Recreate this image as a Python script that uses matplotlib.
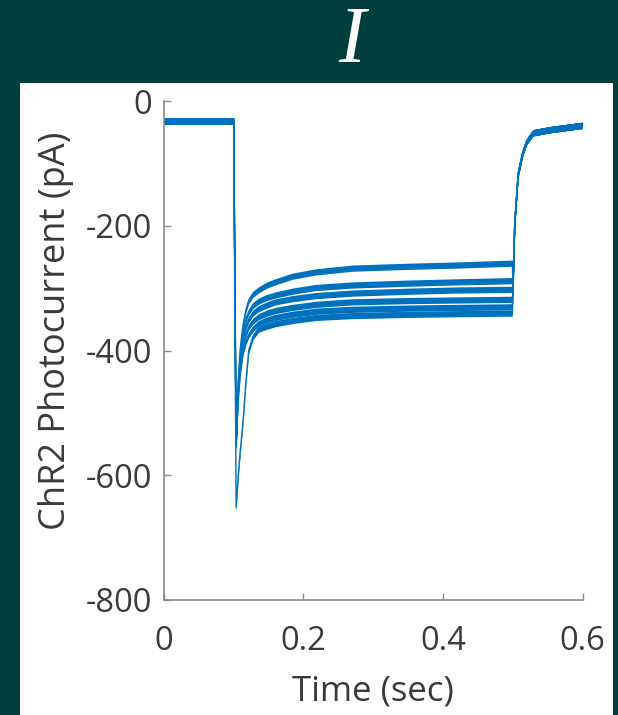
import numpy as np
import matplotlib
matplotlib.use('Agg')
import matplotlib.pyplot as plt
from matplotlib.patches import Rectangle

plt.rcParams['font.family'] = ['Open Sans', 'DejaVu Sans']
plt.rcParams['axes.unicode_minus'] = False

# light-on part of the sweeps (sec), shared by all traces
t_on = [0.000, 0.1005, 0.104, 0.107, 0.110, 0.114, 0.118, 0.122, 0.128,
        0.136, 0.148, 0.160, 0.184, 0.218, 0.270, 0.350, 0.420, 0.4995]
traces_on = [
    [-32, -32, -545, -448, -395, -358, -335, -320, -310, -303, -295, -290, -281, -274, -268, -265, -263, -260],
    [-32, -32, -548, -455, -405, -370, -350, -338, -328, -321, -315, -311, -305, -299, -295, -292, -290, -288],
    [-32, -32, -550, -462, -415, -380, -362, -350, -340, -333, -327, -322, -317, -312, -308, -305, -303, -302],
    [-32, -32, -552, -470, -425, -392, -374, -362, -353, -346, -340, -336, -331, -326, -322, -320, -319, -318],
    [-32, -32, -555, -478, -435, -402, -386, -375, -365, -357, -351, -347, -342, -337, -334, -332, -331, -330],
    [-32, -32, -652, -600, -560, -512, -450, -400, -378, -366, -361, -357, -352, -347, -344, -342, -341, -340],
]
# light-off relaxation, same for every trace
t_off = [0.5005, 0.503, 0.508, 0.5146, 0.520, 0.529, 0.553, 0.600]
y_off = [-300, -196, -116, -82, -65, -51, -46, -39]

x_ticks = [0, 0.2, 0.4, 0.6]
y_ticks = [0, -200, -400, -600, -800]

bg = '#013d3d'
blue = '#0072bd'
grey = '#8a8a8a'
txt = '#3a3a3a'

fig = plt.figure(figsize=(6.18, 7.15), dpi=100, facecolor=bg)
fig.patches.append(Rectangle((20 / 618, 0), 593 / 618, 1 - 83 / 715,
                             transform=fig.transFigure, facecolor='white',
                             edgecolor='none', zorder=-1))

ax = fig.add_axes([163.5 / 618, 1 - 600 / 715, 419 / 618, 499 / 715])
ax.set_facecolor('white')

for y in traces_on:
    t = np.array(t_on + t_off)
    v = np.array(y + y_off)
    ax.fill_between(t, v - 5, v + 5, color=blue, linewidth=0)
    ax.plot(t, v, color=blue, lw=1.0)

ax.set_xlim(0, 0.6)
ax.set_ylim(-800, 0)
ax.set_xticks(x_ticks)
ax.set_xticklabels(['0', '0.2', '0.4', '0.6'])
ax.set_yticks(y_ticks)
ax.set_yticklabels([str(v) for v in y_ticks])

for s in ['top', 'right']:
    ax.spines[s].set_visible(False)
for s in ['left', 'bottom']:
    ax.spines[s].set_color(grey)
    ax.spines[s].set_linewidth(1.2)
ax.tick_params(direction='in', length=5, width=1, color=grey,
               labelcolor=txt, labelsize=23.5)
ax.tick_params(axis='x', pad=18)
ax.tick_params(axis='y', pad=8)

ax.set_xlabel('Time (sec)', fontsize=25, color=txt, labelpad=12)
ax.set_ylabel('ChR2 Photocurrent (pA)', fontsize=26, color=txt, labelpad=9)
ax.yaxis.label.set_y((600 - 331) / 499)

fig.text(352 / 618, 1 - 43 / 715, 'I', family='Liberation Serif', style='italic',
         fontsize=58, color='white', ha='center', va='center')

fig.savefig('out.png', dpi=100, facecolor=bg)
